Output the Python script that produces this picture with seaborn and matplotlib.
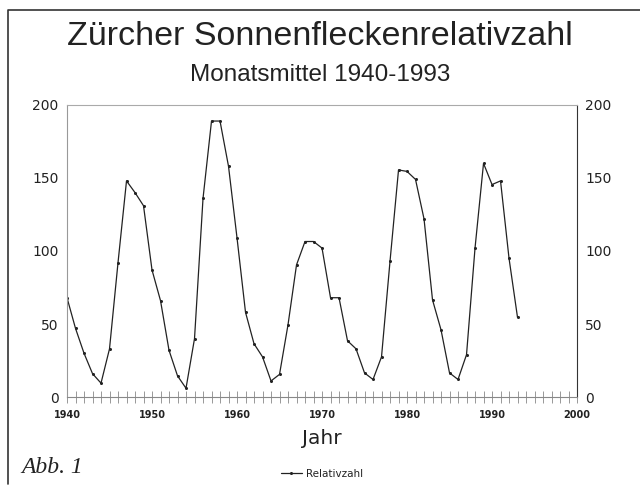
import matplotlib
matplotlib.use("Agg")
import matplotlib.pyplot as plt
import seaborn as sns
import pandas as pd
from matplotlib.lines import Line2D

# data (yearly means)
years = list(range(1940, 1994))
relativzahl = [
    68, 47, 30, 16, 9.5, 33, 92, 148, 140, 131,
    87, 66, 32, 14.5, 6, 40, 136, 189, 189, 158,
    109, 58, 36.5, 27.5, 11, 15.5, 49.5, 90.5, 106.5, 106.5,
    102, 68, 68, 38.5, 33, 16.5, 12, 27.5, 93, 155.5,
    154.5, 149, 122, 66.5, 46, 16.5, 12, 29, 102, 160,
    145.5, 148, 95, 54.5,
]
y_ticks = [0, 50, 100, 150, 200]
x_ticks = [1940, 1950, 1960, 1970, 1980, 1990, 2000]

df = pd.DataFrame({"Jahr": years, "Relativzahl": relativzahl})

sns.set_style("white")
plt.rcParams["font.family"] = ["DejaVu Sans"]
ink = "#222222"

fig = plt.figure(figsize=(6.4, 4.86), dpi=100)
ax = fig.add_axes([0.1047, 0.1831, 0.7969, 0.6009])

sns.lineplot(
    data=df, x="Jahr", y="Relativzahl", ax=ax,
    color=ink, linewidth=0.9, marker="o", markersize=2.2,
    markeredgewidth=0, label="Relativzahl",
)

ax.set_xlim(1940, 2000)
ax.set_ylim(0, 200)
ax.set_yticks(y_ticks)
ax.set_xticks(x_ticks)
ax.set_xticks(range(1940, 2001), minor=True)
ax.tick_params(axis="y", length=0, labelsize=10, pad=6,
               labelleft=True, labelright=True, colors=ink)
ax.tick_params(axis="x", which="both", bottom=True, direction="inout",
               length=8, width=0.6, color="#888888", labelsize=7, pad=5,
               labelcolor=ink)
for lbl in ax.get_xticklabels():
    lbl.set_fontweight("bold")

ax.set_xlabel("Jahr", fontsize=14.5, labelpad=7, color=ink)
ax.set_ylabel("")

ax.spines["left"].set_color("#999999")
ax.spines["right"].set_color("#333333")
ax.spines["top"].set_color("#aaaaaa")
ax.spines["bottom"].set_color("#888888")
for s in ax.spines.values():
    s.set_linewidth(0.8)

leg = ax.legend(loc="center", bbox_to_anchor=(0.5, -0.262),
                frameon=False, fontsize=7.5, handlelength=2.0,
                handletextpad=0.4)
for t in leg.get_texts():
    t.set_color(ink)

fig.text(0.5, 0.924, "Zürcher Sonnenfleckenrelativzahl",
         ha="center", va="center", fontsize=24.5,
         family=["Liberation Sans", "DejaVu Sans"], color=ink)
fig.text(0.5, 0.845, "Monatsmittel 1940-1993",
         ha="center", va="center", fontsize=17.5,
         family=["Liberation Sans", "DejaVu Sans"], color=ink)
fig.text(0.033, 0.039, "Abb. 1", ha="left", va="center", fontsize=17,
         style="italic", family=["Liberation Serif", "DejaVu Serif"],
         color=ink)

# frame lines: left and top
fig.lines.append(Line2D([0.0125, 0.0125, 1.0], [0.005, 0.979, 0.979],
                        transform=fig.transFigure, color="#333333",
                        linewidth=1.2))

fig.savefig("out.png", dpi=100)
